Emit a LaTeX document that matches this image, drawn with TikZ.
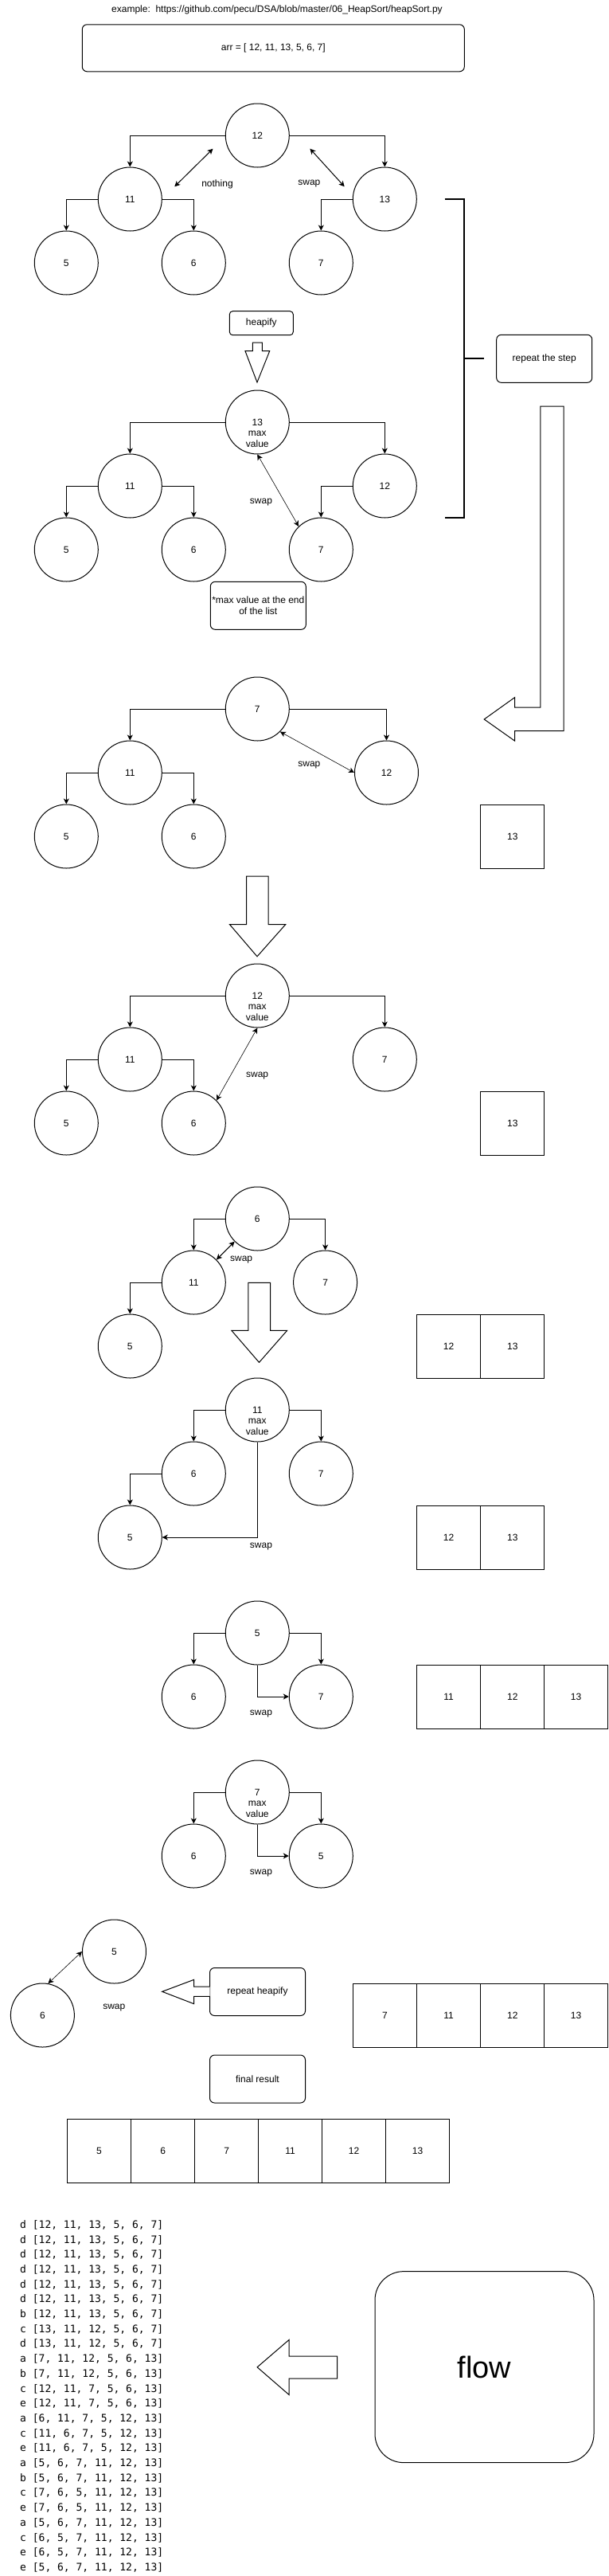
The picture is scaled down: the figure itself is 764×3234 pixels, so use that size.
\documentclass[tikz,border=0pt]{standalone}
\usepackage{fontspec}
\setmainfont{Liberation Sans}
\newfontfamily\codefont{DejaVu Sans Mono}
\usetikzlibrary{arrows.meta}
\begin{document}
\begin{tikzpicture}[x=1pt,y=-1pt,
  every node/.style={font=\fontsize{12}{14}\selectfont},
  nd/.style={circle,draw,line width=1pt,minimum size=80pt,inner sep=0pt},
  cell/.style={rectangle,draw,line width=1pt,minimum width=80pt,minimum height=80pt,inner sep=0pt},
  rbox/.style={rectangle,draw,line width=1pt,rounded corners=6pt,minimum width=120pt,minimum height=60pt,inner sep=1pt,align=center},
  tip/.tip={Stealth[length=7pt,width=7pt,inset=2pt]},
  edge/.style={line width=1pt,-tip},
  dbl/.style={line width=1pt,tip-tip},
  tdbl/.style={line width=0.6pt,tip-tip},
  lbl/.style={inner sep=0pt},
  blk/.style={draw,fill=white,line width=1pt,line join=miter},
  mv/.style={align=center,font=\fontsize{12}{13.7}\selectfont,inner sep=0pt},
  code/.style={anchor=base west,inner sep=0pt,font=\codefont\fontsize{13}{15}\selectfont},
]
\fill[white] (0,0) rectangle (764,3234);
\useasboundingbox (0,0) rectangle (764,3234);

% title and array
\node[lbl] (title) at (348,12) {example:\ \ https://github.com/pecu/DSA/blob/master/06\_HeapSort/heapSort.py};
\node[rbox,minimum width=480pt,minimum height=59pt] (arr) at (343.3,60.3) {arr = [ 12, 11, 13, 5, 6, 7]};

% tree 1
\node[nd] (t1a) at (323.3,170) {12};
\node[nd] (t1b) at (163.3,250) {11};
\node[nd] (t1c) at (483.3,250) {13};
\node[nd] (t1d) at (83.3,330) {5};
\node[nd] (t1e) at (243.3,330) {6};
\node[nd] (t1f) at (403.3,330) {7};
\draw[edge] (t1a.west) -| (t1b.north);
\draw[edge] (t1a.east) -| (t1c.north);
\draw[edge] (t1b.west) -| (t1d.north);
\draw[edge] (t1b.east) -| (t1e.north);
\draw[edge] (t1c.west) -| (t1f.north);
\coordinate (n1) at (219.3,234.3);
\coordinate (n2) at (267.5,186.7);
\coordinate (s1) at (389.4,186.7);
\coordinate (s2) at (432.7,234.3);
\draw[dbl] (n1) -- (n2);
\draw[dbl] (s1) -- (s2);
\node[lbl] (t1n) at (273,231) {nothing};
\node[lbl] (t1s) at (388.4,231) {swap};

% bracket
\draw[line width=2pt] (558.5,250) -- (583.3,250) -- (583.3,650) -- (558.5,650);
\draw[line width=2pt] (583.3,450) -- (608.2,450);
\node[rbox] (repeat) at (683.7,450.3) {repeat the step};

% heapify
\node[rbox,minimum width=80pt,minimum height=30pt,rounded corners=4pt] (heapify) at (328.3,405.7) {heapify};
\draw[blk] (317.3,430) -- (329.4,430) -- (329.4,440.7) -- (338.7,440.7) -- (323,480) -- (308,440.7) -- (317.3,440.7) -- cycle;

% tree 2
\node[nd] (t2a) at (323.3,530) {};
\node[mv] (t2al) at (323.3,543.7) {13\\max\\value};
\node[nd] (t2b) at (163.3,610) {11};
\node[nd] (t2c) at (483.3,610) {12};
\node[nd] (t2d) at (83.3,690) {5};
\node[nd] (t2e) at (243.3,690) {6};
\node[nd] (t2f) at (403.3,690) {7};
\draw[edge] (t2a.west) -| (t2b.north);
\draw[edge] (t2a.east) -| (t2c.north);
\draw[edge] (t2b.west) -| (t2d.north);
\draw[edge] (t2b.east) -| (t2e.north);
\draw[edge] (t2c.west) -| (t2f.north);
\draw[tdbl] (t2a.south) -- (t2f.134);
\node[lbl] (t2s) at (328,631) {swap};
\node[rbox] (maxend) at (324.3,760.3) {*max value at the end\\of the list};

% long bent arrow
\draw[blk] (678.8,510) -- (708.1,510) -- (708.1,917.6) -- (646.7,917.6) -- (646.7,930.2) -- (608.2,903) -- (646.7,875.5) -- (646.7,888.1) -- (678.8,888.1) -- cycle;

% tree 3
\node[nd] (t3a) at (323.3,890) {7};
\node[nd] (t3b) at (163.3,970) {11};
\node[nd] (t3c) at (485.5,970) {12};
\node[nd] (t3d) at (83.3,1050) {5};
\node[nd] (t3e) at (243.3,1050) {6};
\draw[edge] (t3a.west) -| (t3b.north);
\draw[edge] (t3a.east) -| (t3c.north);
\draw[edge] (t3b.west) -| (t3d.north);
\draw[edge] (t3b.east) -| (t3e.north);
\draw[tdbl] (t3a.-45) -- (t3c.west);
\node[lbl] (t3s) at (388.4,960.8) {swap};
\node[cell] (t3x) at (643.8,1050) {13};

\draw[blk] (309.5,1100.1) -- (337.2,1100.1) -- (337.2,1160.6) -- (358.7,1160.6) -- (323,1200.8) -- (288.5,1160.6) -- (309.5,1160.6) -- cycle;

% tree 4
\node[nd] (t4a) at (323.3,1250) {};
\node[mv] (t4al) at (323.3,1263.7) {12\\max\\value};
\node[nd] (t4b) at (163.3,1330) {11};
\node[nd] (t4c) at (483.3,1330) {7};
\node[nd] (t4d) at (83.3,1410) {5};
\node[nd] (t4e) at (243.3,1410) {6};
\draw[edge] (t4a.west) -| (t4b.north);
\draw[edge] (t4a.east) -| (t4c.north);
\draw[edge] (t4b.west) -| (t4d.north);
\draw[edge] (t4b.east) -| (t4e.north);
\draw[tdbl] (t4a.south) -- (t4e.45);
\node[lbl] (t4s) at (323.1,1350.8) {swap};
\node[cell] (t4x) at (643.8,1410) {13};

% tree 5
\node[nd] (t5a) at (323.3,1530) {6};
\node[nd] (t5b) at (243.3,1610) {11};
\node[nd] (t5c) at (408.6,1610) {7};
\node[nd] (t5d) at (163.3,1690) {5};
\draw[edge] (t5a.west) -| (t5b.north);
\draw[edge] (t5a.east) -| (t5c.north);
\draw[edge] (t5b.west) -| (t5d.north);
\draw[dbl] (t5a.225) -- (t5b.45);
\node[lbl] (t5s) at (303.1,1581) {swap};
\node[cell] (t5x) at (563.6,1690) {12};
\node[cell] (t5y) at (643.8,1690) {13};

\draw[blk] (311.9,1610.4) -- (339.7,1610.4) -- (339.7,1670.4) -- (360.6,1670.4) -- (325.5,1710.4) -- (290.9,1670.4) -- (311.9,1670.4) -- cycle;

% tree 6
\node[nd] (t6a) at (323.3,1770) {};
\node[mv] (t6al) at (323.3,1783.7) {11\\max\\value};
\node[nd] (t6b) at (243.3,1850) {6};
\node[nd] (t6c) at (403.3,1850) {7};
\node[nd] (t6d) at (163.3,1930) {5};
\draw[edge] (t6a.west) -| (t6b.north);
\draw[edge] (t6a.east) -| (t6c.north);
\draw[edge] (t6b.west) -| (t6d.north);
\draw[edge] (t6a.south) |- (t6d.east);
\node[lbl] (t6s) at (328,1941.2) {swap};
\node[cell] (t6x) at (563.6,1930) {12};
\node[cell] (t6y) at (643.8,1930) {13};

% tree 7
\node[nd] (t7a) at (323.3,2050) {5};
\node[nd] (t7b) at (243.3,2130) {6};
\node[nd] (t7c) at (403.3,2130) {7};
\draw[edge] (t7a.west) -| (t7b.north);
\draw[edge] (t7a.east) -| (t7c.north);
\draw[edge] (t7a.south) |- (t7c.west);
\node[lbl] (t7s) at (328,2151) {swap};
\node[cell] (t7x) at (563.6,2130) {11};
\node[cell] (t7y) at (643.8,2130) {12};
\node[cell] (t7z) at (723.5,2130) {13};

% tree 8
\node[nd] (t8a) at (323.3,2250) {};
\node[mv] (t8al) at (323.3,2263.7) {7\\max\\value};
\node[nd] (t8b) at (243.3,2330) {6};
\node[nd] (t8c) at (403.3,2330) {5};
\draw[edge] (t8a.west) -| (t8b.north);
\draw[edge] (t8a.east) -| (t8c.north);
\draw[edge] (t8a.south) |- (t8c.west);
\node[lbl] (t8s) at (328,2351) {swap};

% tree 9
\node[nd] (t9a) at (143.5,2450) {5};
\node[nd] (t9b) at (53.4,2530) {6};
\draw[tdbl] (t9b.80) -- (t9a.west);
\node[lbl] (t9s) at (143.3,2520.7) {swap};
\node[rbox] (rh) at (323.5,2500.5) {repeat heapify};
\draw[blk] (263.6,2494) -- (243.7,2494) -- (243.7,2485.3) -- (203.7,2500.3) -- (243.7,2515.7) -- (243.7,2506.3) -- (263.6,2506.3);
\node[cell] (t9w) at (483.5,2530.3) {7};
\node[cell] (t9x) at (563.6,2530.3) {11};
\node[cell] (t9y) at (643.8,2530.3) {12};
\node[cell] (t9z) at (723.5,2530.3) {13};

% final result
\node[rbox] (fr) at (323.5,2610) {final result};
\node[cell] (f1) at (124.5,2700.2) {5};
\node[cell] (f2) at (204.6,2700.2) {6};
\node[cell] (f3) at (284.6,2700.2) {7};
\node[cell] (f4) at (364.5,2700.2) {11};
\node[cell] (f5) at (444.5,2700.2) {12};
\node[cell] (f6) at (524.6,2700.2) {13};

% code output
\foreach \t [count=\i from 0] in {
  {d [12, 11, 13, 5, 6, 7]},{d [12, 11, 13, 5, 6, 7]},{d [12, 11, 13, 5, 6, 7]},
  {d [12, 11, 13, 5, 6, 7]},{d [12, 11, 13, 5, 6, 7]},{d [12, 11, 13, 5, 6, 7]},
  {b [12, 11, 13, 5, 6, 7]},{c [13, 11, 12, 5, 6, 7]},{d [13, 11, 12, 5, 6, 7]},
  {a [7, 11, 12, 5, 6, 13]},{b [7, 11, 12, 5, 6, 13]},{c [12, 11, 7, 5, 6, 13]},
  {e [12, 11, 7, 5, 6, 13]},{a [6, 11, 7, 5, 12, 13]},{c [11, 6, 7, 5, 12, 13]},
  {e [11, 6, 7, 5, 12, 13]},{a [5, 6, 7, 11, 12, 13]},{b [5, 6, 7, 11, 12, 13]},
  {c [7, 6, 5, 11, 12, 13]},{e [7, 6, 5, 11, 12, 13]},{a [5, 6, 7, 11, 12, 13]},
  {c [6, 5, 7, 11, 12, 13]},{e [6, 5, 7, 11, 12, 13]},{e [5, 6, 7, 11, 12, 13]}}
  { \node[code] (code\i) at (25,{2797.3+18.7*\i}) {\t}; }

% flow
\draw[blk] (423.5,2958.2) -- (363.1,2958.2) -- (363.1,2937.4) -- (323.1,2971.8) -- (363.1,3006.5) -- (363.1,2986.1) -- (423.5,2986.1) -- cycle;
\node[rectangle,draw,line width=1pt,rounded corners=36pt,minimum width=275pt,minimum height=240pt,font=\fontsize{38}{42}\selectfont] (flow) at (608.5,2971.6) {flow};
\end{tikzpicture}
\end{document}
